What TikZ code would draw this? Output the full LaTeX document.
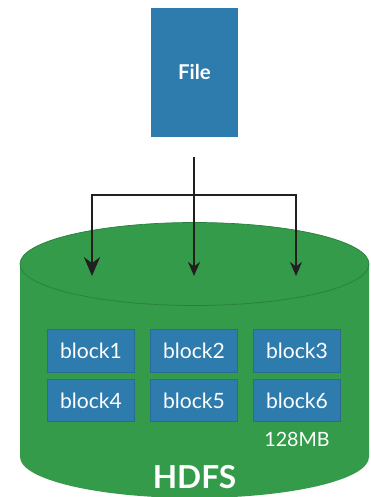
\documentclass[tikz,border=0pt]{standalone}
\usepackage{fontspec}
\setmainfont{Lato}
\usetikzlibrary{arrows.meta}
\definecolor{hdfsgreen}{HTML}{339B4A}
\definecolor{hdfsedge}{HTML}{2A7F3F}
\definecolor{blockblue}{HTML}{2E7BAE}
\definecolor{blockedge}{HTML}{2B6A94}
\definecolor{arrowblack}{HTML}{231F20}
\tikzset{
  blockbox/.style={draw=blockedge,line width=0.7pt,fill=blockblue,text=white,minimum width=62.5pt,minimum height=30pt,inner sep=0pt,font=\fontsize{15}{17}\selectfont},
  wire/.style={draw=arrowblack,line width=1.2pt},
  bigtip/.style={-{Stealth[length=13.5pt,width=11.5pt]}},
  smalltip/.style={-{Stealth[length=10pt,width=8.5pt]}}
}
\begin{document}
\begin{tikzpicture}[x=0.025cm,y=-0.025cm]
  \useasboundingbox (0,0) rectangle (370,497);

	\def\cx{194.5};
	\def\rx{174.5};

	%cylinder
	\fill[hdfsgreen] (20,264) -- (20,457) arc[start angle=180,end angle=360,x radius=\rx,y radius=-41] -- (369,264) -- cycle;
	\draw[fill=hdfsgreen,draw=hdfsedge,line width=0.5pt] (\cx,264) ellipse[x radius=\rx,y radius=41.5];

	%file
	\node[fill=blockblue,text=white,minimum width=62pt,minimum height=92pt,inner sep=0pt,font=\fontsize{14.5}{16}\selectfont\bfseries] (file) at (194.5,72.5) {\raisebox{1pt}{File}};

	%blocks
	\foreach \i/\x/\y in { 1/91/351,2/194/351,3/297/351,4/91/400.5,5/194/400.5,6/297/400.5}{
		\node[blockbox] (block\i) at (\x,\y) {block\i};
	}

	\node[text=white,font=\fontsize{14}{16}\selectfont] (size) at (297,439) {128MB};
	\node[text=white,font=\fontsize{22.5}{24}\selectfont\bfseries] (hdfs) at (194.5,477) {HDFS};

	%arrows
	\coordinate (start) at (194,157);
	\coordinate (split) at (194,195);
	\coordinate (left) at (92,276);
	\coordinate (mid) at (194,276);
	\coordinate (right) at (296,276);

	\draw[wire,smalltip] (start) -- (mid);
	\draw[wire,bigtip] (split) -| (left);
	\draw[wire,smalltip] (split) -| (right);
\end{tikzpicture}
\end{document}
